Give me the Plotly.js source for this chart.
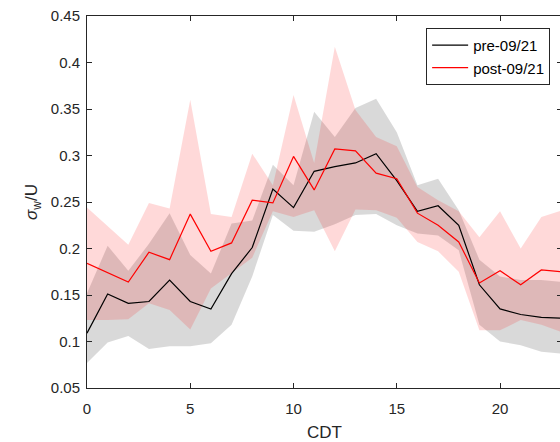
<!DOCTYPE html>
<html>
<head>
<meta charset="utf-8">
<script src="https://cdn.plot.ly/plotly-3.0.1.min.js"></script>
<style>
  html, body { margin: 0; padding: 0; background: #fff; overflow: hidden; width: 560px; height: 442px; }
  #chart { width: 566px; height: 442px; }
</style>
</head>
<body>
<div id="chart"></div>
<script>
// Hour of day (CDT)
const hours = [0,1,2,3,4,5,6,7,8,9,10,11,12,13,14,15,16,17,18,19,20,21,22,23];

// pre-09/21 mean and band
const preMean = [0.109,0.151,0.141,0.143,0.166,0.143,0.135,0.173,0.201,0.264,0.244,0.283,0.288,0.292,0.302,0.273,0.240,0.246,0.225,0.161,0.135,0.129,0.126,0.125];
const preHi   = [0.152,0.203,0.176,0.205,0.238,0.193,0.173,0.227,0.230,0.290,0.268,0.347,0.320,0.351,0.361,0.325,0.268,0.275,0.241,0.188,0.170,0.166,0.166,0.164];
const preLo   = [0.077,0.099,0.106,0.092,0.095,0.095,0.098,0.118,0.170,0.236,0.219,0.218,0.226,0.236,0.237,0.225,0.216,0.214,0.198,0.118,0.100,0.096,0.089,0.087];

// post-09/21 mean and band
const postMean = [0.184,0.174,0.164,0.196,0.188,0.237,0.197,0.206,0.252,0.249,0.299,0.263,0.307,0.305,0.281,0.275,0.238,0.225,0.207,0.163,0.176,0.161,0.177,0.175];
const postHi   = [0.244,0.224,0.204,0.249,0.243,0.360,0.237,0.234,0.302,0.268,0.365,0.292,0.417,0.349,0.320,0.310,0.266,0.252,0.240,0.212,0.240,0.200,0.234,0.241];
const postLo   = [0.123,0.123,0.124,0.141,0.134,0.113,0.157,0.173,0.190,0.240,0.234,0.241,0.197,0.242,0.241,0.233,0.207,0.197,0.175,0.112,0.112,0.123,0.118,0.110];

const seriesNames = ['pre-09/21', 'post-09/21'];
const xTicks = [0,5,10,15,20];
const yTicks = [0.05,0.1,0.15,0.2,0.25,0.3,0.35,0.4,0.45];
const yTickText = ['0.05','0.1','0.15','0.2','0.25','0.3','0.35','0.4','0.45'];

function band(lo, hi) {
  return {
    x: hours.concat(hours.slice().reverse()),
    y: hi.concat(lo.slice().reverse())
  };
}
const preBand = band(preLo, preHi);
const postBand = band(postLo, postHi);

const axisColor = '#262626';
const font = 'Liberation Sans, Arial, Helvetica, sans-serif';

const traces = [
  { x: preBand.x, y: preBand.y, type: 'scatter', mode: 'lines', fill: 'toself',
    fillcolor: 'rgba(0,0,0,0.15)', line: { width: 0 }, showlegend: false, hoverinfo: 'skip' },
  { x: postBand.x, y: postBand.y, type: 'scatter', mode: 'lines', fill: 'toself',
    fillcolor: 'rgba(255,0,0,0.15)', line: { width: 0 }, showlegend: false, hoverinfo: 'skip' },
  { x: hours, y: preMean, type: 'scatter', mode: 'lines', name: seriesNames[0],
    line: { color: '#000000', width: 1.2 } },
  { x: hours, y: postMean, type: 'scatter', mode: 'lines', name: seriesNames[1],
    line: { color: '#ff0000', width: 1.2 } }
];

const layout = {
  width: 566, height: 442,
  margin: { l: 87, r: 4, t: 16, b: 54 },
  paper_bgcolor: '#ffffff', plot_bgcolor: '#ffffff',
  font: { family: font, size: 15, color: axisColor },
  showlegend: true,
  legend: {
    x: 0.975, y: 0.968, xanchor: 'right', yanchor: 'top',
    bgcolor: '#ffffff', bordercolor: axisColor, borderwidth: 1,
    font: { family: font, size: 15, color: '#000000' },
    tracegroupgap: 0, itemwidth: 36
  },
  xaxis: {
    range: [0, 23], tickvals: xTicks, ticktext: xTicks.map(String),
    ticks: 'inside', ticklen: 5, tickcolor: axisColor, tickwidth: 1,
    showline: true, linecolor: axisColor, linewidth: 1, mirror: 'ticks',
    showgrid: false, zeroline: false, ticklabelstandoff: 7,
    tickfont: { family: font, size: 15, color: axisColor },
    title: { text: 'CDT', font: { family: font, size: 17, color: axisColor }, standoff: 10 }
  },
  yaxis: {
    range: [0.05, 0.45], tickvals: yTicks, ticktext: yTickText,
    ticks: 'inside', ticklen: 5, tickcolor: axisColor, tickwidth: 1,
    showline: true, linecolor: axisColor, linewidth: 1, mirror: 'ticks',
    showgrid: false, zeroline: false, ticklabelstandoff: 3,
    tickfont: { family: font, size: 15, color: axisColor },
    title: { text: '<i>σ</i><sub>w</sub>/U', font: { family: font, size: 17, color: axisColor }, standoff: 8 }
  }
};

Plotly.newPlot('chart', traces, layout, { displayModeBar: false, staticPlot: true });
</script>
</body>
</html>
